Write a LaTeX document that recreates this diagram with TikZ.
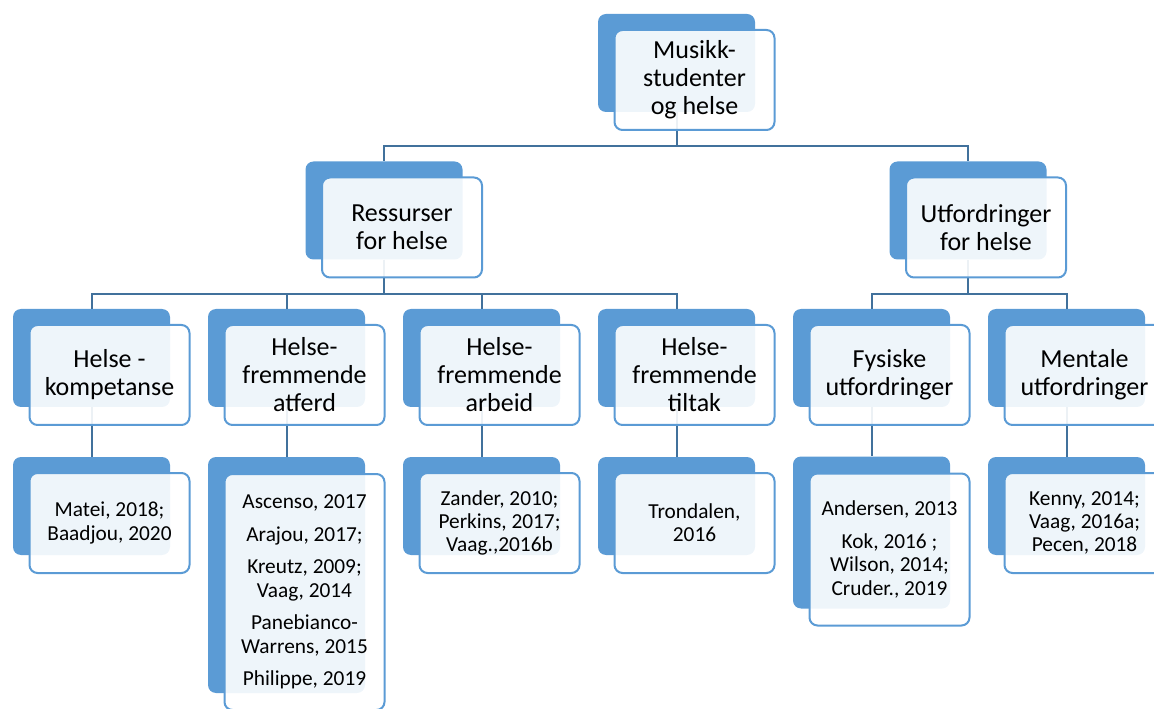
\documentclass[tikz,border=0pt]{standalone}
\usepackage{fontspec}
\setmainfont{Carlito}
\definecolor{boxblue}{HTML}{5B9BD5}
\definecolor{linkblue}{HTML}{41719C}

\begin{document}
\begin{tikzpicture}[x=0.75pt,y=-0.75pt,
  back/.style={fill=boxblue,rounded corners=6pt,minimum width=117.75pt,minimum height=73.5pt,inner sep=0pt},
  front/.style={draw=boxblue,line width=1.5pt,fill=white,fill opacity=0.9,text opacity=1,rounded corners=6pt,minimum width=120pt,minimum height=75pt,inner sep=0pt,align=center,font=\fontsize{19.5}{21}\selectfont},
  ref/.style={front,font=\fontsize{16}{17.5}\selectfont},
  link/.style={draw=linkblue,line width=1.5pt}]
\useasboundingbox (0,0) rectangle (1154,709);
% back boxes
\node[back] (musikk) at (676.5,63) {};
\node[back] (res) at (384,210.5) {};
\node[back] (utf) at (968,210.5) {};
\node[back] (komp) at (91.5,358) {};
\node[back] (atf) at (286.5,358) {};
\node[back] (arb) at (481.5,358) {};
\node[back] (til) at (676.5,358) {};
\node[back] (fys) at (871.5,358) {};
\node[back] (men) at (1066.5,358) {};
\node[back] (mat) at (91.5,506) {};
\node[back,minimum height=177pt] (asc) at (286.5,575) {};
\node[back] (zan) at (481.5,506) {};
\node[back] (tro) at (676.5,506) {};
\node[back,minimum height=114pt] (ande) at (871.5,532.5) {};
\node[back] (ken) at (1066.5,506) {};
% connectors
\draw[link] (musikk.south) -- ++(0,34) -| (res.north);
\draw[link] (musikk.south) -- ++(0,34) -| (utf.north);
\draw[link] (res.south) -- ++(0,34) -| (komp.north);
\draw[link] (res.south) -- ++(0,34) -| (atf.north);
\draw[link] (res.south) -- ++(0,34) -| (arb.north);
\draw[link] (res.south) -- ++(0,34) -| (til.north);
\draw[link] (utf.south) -- ++(0,34) -| (fys.north);
\draw[link] (utf.south) -- ++(0,34) -| (men.north);
\draw[link] (komp.south) -- (mat.north);
\draw[link] (atf.south) -- (asc.north);
\draw[link] (arb.south) -- (zan.north);
\draw[link] (til.south) -- (tro.north);
\draw[link] (fys.south) -- (ande.north);
\draw[link] (men.south) -- (ken.north);
% front boxes with text
\node[front] (musikkT) at (694.5,80) {Musikk-\\studenter\\og helse};
\node[front] (resT) at (402,227.5) {Ressurser\\for helse};
\node[front] (utfT) at (986,227.5) {Utfordringer\\for helse};
\node[front] (kompT) at (109.5,375) {Helse -\\kompetanse};
\node[front] (atfT) at (304.5,375) {Helse-\\fremmende\\atferd};
\node[front] (arbT) at (499.5,375) {Helse-\\fremmende\\arbeid};
\node[front] (tilT) at (694.5,375) {Helse-\\fremmende\\tiltak};
\node[front] (fysT) at (889.5,375) {Fysiske\\utfordringer};
\node[front] (menT) at (1084.5,375) {Mentale\\utfordringer};
\node[ref] (matT) at (109.5,523) {Matei, 2018;\\Baadjou, 2020};
\node[ref,minimum height=177pt] (ascT) at (304.5,592) {Ascenso, 2017\\[7pt]Arajou, 2017;\\[7pt]Kreutz, 2009;\\Vaag, 2014\\[7pt]Panebianco-\\Warrens, 2015\\[7pt]Philippe, 2019};
\node[ref] (zanT) at (499.5,523) {Zander, 2010;\\Perkins, 2017;\\Vaag.,2016b};
\node[ref] (troT) at (694.5,523) {Trondalen,\\2016};
\node[ref,minimum height=114pt] (andeT) at (889.5,549.5) {Andersen, 2013\\[7pt]Kok, 2016 ;\\Wilson, 2014;\\Cruder., 2019};
\node[ref] (kenT) at (1084.5,523) {Kenny, 2014;\\Vaag, 2016a;\\Pecen, 2018};
\end{tikzpicture}
\end{document}
